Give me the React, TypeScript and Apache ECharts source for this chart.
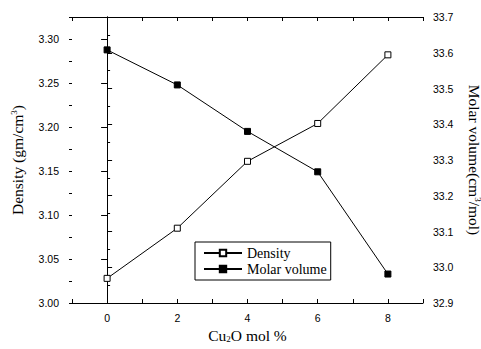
import React, { useEffect, useRef } from "react";
import * as echarts from "echarts";

const cu2oMol = [0, 2, 4, 6, 8];
const density = [3.028, 3.085, 3.161, 3.204, 3.282];
const molarVolume = [33.608, 33.51, 33.38, 33.267, 32.981];
const seriesNames = ["Density", "Molar volume"];

const SANS = "'Liberation Sans', Arial, sans-serif";
const SERIF = "'Liberation Serif', 'Times New Roman', serif";

export default function App() {
  const ref = useRef<HTMLDivElement>(null);
  useEffect(() => {
    document.body.style.margin = "0";
    const chart = echarts.init(ref.current!, null, { renderer: "svg" });
    const axisLine = { show: true, lineStyle: { color: "#000", width: 1 } };
    const tickStyle = { color: "#000", width: 1 };
    const labelStyle = { color: "#000", fontFamily: SANS, fontSize: 10.5 };
    const TITLE = 15.5;
    chart.setOption({
      animation: false,
      backgroundColor: "#fff",
      grid: { left: 72, right: 58, top: 17, bottom: 46, containLabel: false, outerBoundsMode: "none" },
      legend: {
        orient: "vertical",
        left: 195,
        top: 242,
        backgroundColor: "#fff",
        borderColor: "#000",
        borderWidth: 1,
        borderRadius: 0,
        padding: [4, 4, 4, 8],
        itemWidth: 38,
        itemHeight: 8,
        itemGap: 2,
        data: seriesNames,
        textStyle: { fontFamily: SERIF, fontSize: 14, color: "#000" },
      },
      xAxis: [
        {
          type: "value",
          position: "bottom",
          min: -1,
          max: 9,
          interval: 1,
          axisLine,
          axisTick: { show: true, inside: true, length: 4, lineStyle: tickStyle },
          axisLabel: {
            ...labelStyle,
            margin: 9,
            formatter: (v: number) => (v >= 0 && v % 2 === 0 ? String(v) : ""),
          },
          splitLine: { show: false },
          name: "Cu{sub|2}O mol %",
          nameLocation: "middle",
          nameGap: 21,
          nameTextStyle: {
            fontFamily: SERIF,
            fontSize: TITLE,
            color: "#000",
            rich: { sub: { fontFamily: SERIF, fontSize: 9, verticalAlign: "bottom", padding: [7, 0, 0, 0] } },
          },
        },
        {
          type: "value",
          position: "top",
          min: -1,
          max: 9,
          interval: 1,
          axisLine,
          axisTick: { show: true, inside: true, length: 4, lineStyle: tickStyle },
          axisLabel: { show: false },
          splitLine: { show: false },
        },
      ],
      yAxis: [
        {
          type: "value",
          position: "left",
          min: 3.0,
          max: 3.325,
          interval: 0.05,
          axisLine,
          axisTick: { show: true, inside: false, length: 6, lineStyle: tickStyle },
          axisLabel: {
            ...labelStyle,
            margin: 13,
            formatter: (v: number) =>
              Math.abs(v * 20 - Math.round(v * 20)) < 1e-6 ? v.toFixed(2) : "",
          },
          splitLine: { show: false },
          name: "Density (gm/cm{sup|3})",
          nameLocation: "middle",
          nameGap: 47,
          nameRotate: 90,
          nameTextStyle: {
            fontFamily: SERIF,
            fontSize: TITLE,
            color: "#000",
            rich: { sup: { fontFamily: SERIF, fontSize: 9, verticalAlign: "top", padding: [0, 0, 7, 0] } },
          },
        },
        {
          type: "value",
          position: "right",
          min: 32.9,
          max: 33.7,
          interval: 0.1,
          axisLine,
          axisTick: { show: true, inside: false, length: 5, lineStyle: tickStyle },
          minorTick: { show: true, splitNumber: 2, length: 3, lineStyle: tickStyle },
          axisLabel: { ...labelStyle, margin: 10, formatter: (v: number) => v.toFixed(1) },
          splitLine: { show: false },
          minorSplitLine: { show: false },
          name: "Molar volume(cm{sup|3}/mol)",
          nameLocation: "middle",
          nameGap: 43,
          nameRotate: -90,
          nameTextStyle: {
            fontFamily: SERIF,
            fontSize: TITLE,
            color: "#000",
            rich: { sup: { fontFamily: SERIF, fontSize: 9, verticalAlign: "top", padding: [0, 0, 7, 0] } },
          },
        },
        {
          type: "value",
          position: "left",
          min: 3.0,
          max: 3.325,
          interval: 0.025,
          axisLine: { show: false },
          axisTick: { show: true, inside: false, length: 3, lineStyle: tickStyle },
          axisLabel: { show: false },
          splitLine: { show: false },
        },
      ],
      series: [
        {
          name: seriesNames[0],
          type: "line",
          xAxisIndex: 0,
          yAxisIndex: 0,
          data: cu2oMol.map((x, i) => [x, density[i]]),
          symbol: "rect",
          symbolSize: 6,
          lineStyle: { color: "#000", width: 1 },
          itemStyle: { color: "#fff", borderColor: "#000", borderWidth: 1 },
        },
        {
          name: seriesNames[1],
          type: "line",
          xAxisIndex: 0,
          yAxisIndex: 1,
          data: cu2oMol.map((x, i) => [x, molarVolume[i]]),
          symbol: "rect",
          symbolSize: 6,
          lineStyle: { color: "#000", width: 1 },
          itemStyle: { color: "#000", borderColor: "#000", borderWidth: 1 },
        },
      ],
    });
    return () => chart.dispose();
  }, []);
  return <div ref={ref} style={{ width: 481, height: 349 }} />;
}
